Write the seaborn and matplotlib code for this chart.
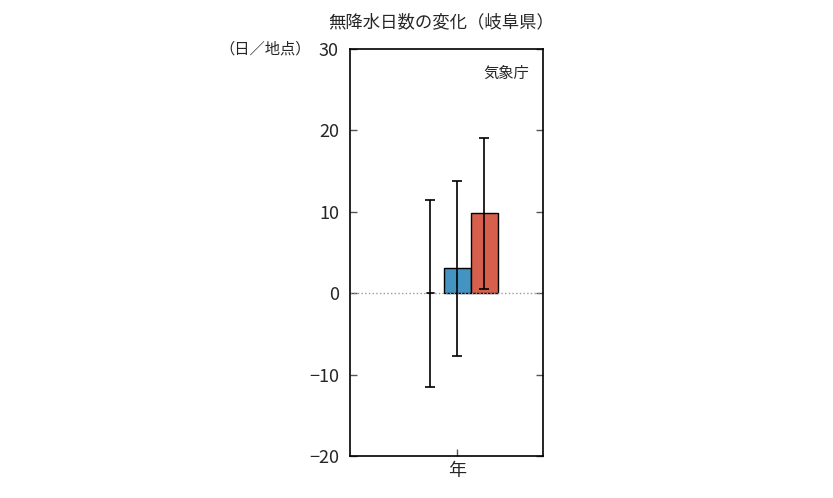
import matplotlib
matplotlib.use('Agg')
import matplotlib.pyplot as plt
import seaborn as sns
import pandas as pd

# Values
series = ['s1', 's2', 's3']
values = [0.0, 3.1, 9.8]
err_low = [-11.5, -7.7, 0.5]
err_high = [11.4, 13.8, 19.1]
bar_colors = ['#bbbbbb', '#4393c3', '#d6604d']
category = '年'

sns.set_style('white')
plt.rcParams['font.family'] = ['Noto Sans CJK JP', 'DejaVu Sans']

df = pd.DataFrame({'cat': [category] * 3, 'series': series, 'value': values})

fig = plt.figure(figsize=(8.33, 4.98), dpi=100)
ax = fig.add_axes([350 / 833, 1 - 456 / 498, 193 / 833, 407 / 498])

sns.barplot(data=df, x='cat', y='value', hue='series', palette=bar_colors,
            saturation=1, edgecolor='black', linewidth=1, errorbar=None,
            legend=False, ax=ax)

# error bars at bar centers
for patch, v, lo, hi in zip(ax.patches, values, err_low, err_high):
    xc = patch.get_x() + patch.get_width() / 2
    ax.errorbar(xc, v, yerr=[[v - lo], [hi - v]], fmt='none', ecolor='black',
                elinewidth=1.2, capsize=3.5, capthick=1.2, zorder=5)
    if v == 0:
        ax.plot([xc - 0.035, xc + 0.035], [0, 0], color='black', lw=1.2, zorder=5)
ax.patches[0].set_visible(False)

ax.axhline(0, color='#999999', linestyle=':', linewidth=1, zorder=1)

ax.set_xlim(-1.06, 0.85)
ax.set_ylim(-20, 30)
ax.set_yticks([-20, -10, 0, 10, 20, 30])
ax.set_xlabel('')
ax.set_ylabel('')
ax.tick_params(axis='y', direction='in', left=True, right=True, length=5,
               labelsize=13, width=1, color='#555555', pad=8)
ax.tick_params(axis='x', direction='in', bottom=True, length=5, labelsize=13,
               width=1, color='#555555', pad=4)
for s in ax.spines.values():
    s.set_color('black')
    s.set_linewidth(1.2)

ax.text(0.93, 0.94, '気象庁', transform=ax.transAxes, ha='right', va='center',
        fontsize=11)
fig.text(441 / 833, 1 - 22 / 498, '無降水日数の変化（岐阜県）', ha='center',
         va='center', fontsize=12.5)
fig.text(265 / 833, 1 - 49 / 498, '（日／地点）', ha='center', va='center',
         fontsize=11)

fig.savefig('out.png', dpi=100)
